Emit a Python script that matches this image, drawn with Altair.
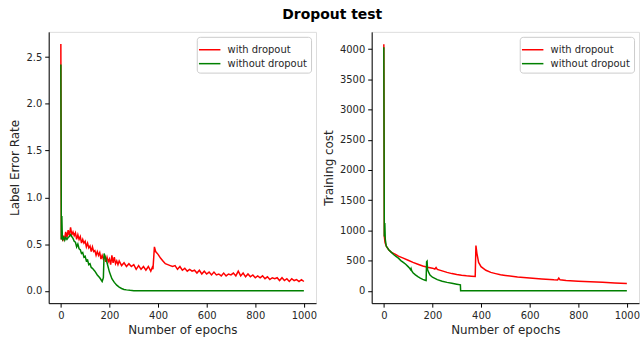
import altair as alt
import pandas as pd

series_names = ["with dropout", "without dropout"]
series_colors = ["#ff0000", "#008000"]

# Left panel: label error rate
red_err_epoch = [0, 2, 5, 8, 10, 15, 20, 25, 30, 35, 40, 45, 50, 55, 60, 65, 70, 75, 80, 85, 90,
                 95, 100, 105, 110, 115, 120, 125, 130, 135, 140, 145, 150, 155, 160, 165, 170,
                 175, 180, 185, 190, 195, 200, 205, 210, 215, 220, 225, 230, 235, 240, 250, 260,
                 270, 280,
                 290, 300, 310, 320, 330, 340, 350, 360, 370, 376, 379, 385, 390, 400, 410, 420,
                 430, 440, 450, 460, 470, 480, 490, 500, 510, 520, 530, 540, 550, 560, 570, 580,
                 590, 600, 610, 620, 630, 640, 650, 660, 670, 680, 690, 700, 710, 720, 730, 740,
                 750, 760, 770, 780, 790, 800, 810, 820, 830, 840, 850, 860, 870, 880, 890, 900,
                 910, 920, 930, 940, 950, 960, 970, 980, 990, 1000]
red_err_val = [2.64, 0.55, 0.63, 0.53, 0.59, 0.55, 0.63, 0.57, 0.65, 0.59, 0.68, 0.60, 0.63, 0.59,
               0.62, 0.55, 0.60, 0.55, 0.58, 0.51, 0.55, 0.51, 0.53, 0.47, 0.51, 0.46, 0.48, 0.42,
               0.47, 0.42, 0.43, 0.38, 0.42, 0.38, 0.41, 0.34, 0.38, 0.34, 0.37, 0.31, 0.36, 0.31,
               0.34, 0.28, 0.38, 0.30, 0.36, 0.29, 0.32, 0.28, 0.32, 0.27, 0.30, 0.26, 0.29, 0.26,
               0.28, 0.23, 0.27, 0.23, 0.26, 0.22,
               0.26, 0.21, 0.25, 0.23, 0.47, 0.42, 0.39, 0.35, 0.32, 0.29, 0.28, 0.27, 0.26, 0.27,
               0.23, 0.26, 0.22, 0.24, 0.21, 0.23, 0.21, 0.22, 0.19, 0.22, 0.18, 0.21, 0.18, 0.20,
               0.17, 0.20, 0.17, 0.18, 0.16, 0.19, 0.16, 0.18, 0.17, 0.19, 0.16, 0.21, 0.16, 0.19,
               0.15, 0.18, 0.15, 0.17, 0.14, 0.16, 0.14, 0.16, 0.13, 0.15, 0.12, 0.14, 0.13, 0.14,
               0.11, 0.14, 0.11, 0.13, 0.10, 0.13, 0.11, 0.12, 0.10, 0.12, 0.10, 0.10]

green_err_epoch = [0, 2, 4, 6, 8, 12, 16, 20, 25, 30, 35, 40, 45, 50, 55, 60, 65, 70, 75, 80, 85,
                   90, 95, 100, 105, 110, 115, 120, 125, 130, 140, 150, 160, 170, 175, 178, 182,
                   190, 200, 210, 220, 230, 240, 250, 260, 270, 285, 300, 320, 1000]
green_err_val = [2.42, 0.55, 0.80, 0.58, 0.55, 0.57, 0.54, 0.57, 0.55, 0.57, 0.58, 0.60, 0.58,
                 0.56, 0.53, 0.52, 0.47, 0.50, 0.45, 0.44, 0.40, 0.41, 0.36, 0.37, 0.32, 0.33,
                 0.28, 0.29, 0.25, 0.24, 0.21, 0.17, 0.14, 0.10, 0.14, 0.40, 0.37, 0.30, 0.20,
                 0.13, 0.09, 0.06, 0.04, 0.025, 0.015, 0.01, 0.005, 0.002, 0.0, 0.0]

# Right panel: training cost
red_cost_epoch = [0, 2, 5, 10, 20, 30, 40, 50, 60, 80, 100, 120, 140, 160, 180, 200, 210, 215, 220,
                  240, 260, 280, 300, 320, 340, 360, 376, 379, 383, 390, 400, 420, 440, 460, 480,
                  500, 550, 600, 650, 700, 715, 720, 725, 750, 800, 850, 900, 950, 1000]
red_cost_val = [4080, 900, 800, 740, 680, 640, 620, 600, 575, 540, 505, 470, 440, 410, 390, 375,
                360, 385, 355, 330, 305, 285, 270, 258, 248, 242, 238, 750, 620, 470, 400, 340,
                305, 285, 265, 255, 230, 212, 195, 182, 180, 212, 182, 172, 160, 150, 140, 130,
                122]

green_cost_epoch = [0, 2, 4, 6, 10, 20, 30, 40, 50, 60, 70, 80, 90, 100, 105, 110, 112, 115, 120,
                    130, 140, 150, 160, 170, 174, 176, 178, 180, 185, 190, 200, 220, 240, 260, 280,
                    300, 315, 316, 1000]
green_cost_val = [4030, 900, 1120, 850, 740, 680, 640, 600, 570, 540, 500, 470, 440, 400, 380, 350,
                  370, 330, 300, 265, 235, 210, 190, 175, 170, 480, 490, 350, 300, 260, 225, 185,
                  160, 140, 125, 110, 100, 0, 0]


def frame(red_e, red_v, green_e, green_v):
    rows = [{"epoch": e, "value": v, "series": series_names[0]} for e, v in zip(red_e, red_v)]
    rows += [{"epoch": e, "value": v, "series": series_names[1]} for e, v in zip(green_e, green_v)]
    return pd.DataFrame(rows)


df_err = frame(red_err_epoch, red_err_val, green_err_epoch, green_err_val)
df_cost = frame(red_cost_epoch, red_cost_val, green_cost_epoch, green_cost_val)

FONT = "DejaVu Sans"
x_ticks = [0, 200, 400, 600, 800, 1000]


def axis(title, values, fmt, tpad):
    return alt.Axis(title=title, values=values, format=fmt, grid=False, tickSize=4,
                    tickColor="black", domainColor="black", labelColor="#262626",
                    titleColor="#262626", labelFont=FONT, titleFont=FONT, labelFontSize=10,
                    titleFontSize=12, titleFontWeight="normal", labelPadding=3,
                    titlePadding=tpad)


legend = alt.Legend(title=None, orient="top-right", offset=5, symbolType="M-1.35,0H1.35",
                    symbolStrokeWidth=1.5, symbolSize=256, labelFont=FONT, labelFontSize=10,
                    labelColor="#262626", fillColor="white", strokeColor="#cccccc",
                    cornerRadius=3, padding=4, rowPadding=0, labelOffset=9)

color = alt.Color("series:N", scale=alt.Scale(domain=series_names, range=series_colors),
                  legend=legend)


def panel(df, ytitle, ydomain, yvalues, yfmt):
    return alt.Chart(df).mark_line(strokeWidth=1.5).encode(
        x=alt.X("epoch:Q", scale=alt.Scale(domain=[-50, 1050], nice=False, zero=False),
                axis=axis("Number of epochs", x_ticks, "d", 5)),
        y=alt.Y("value:Q", scale=alt.Scale(domain=ydomain, nice=False, zero=False),
                axis=axis(ytitle, yvalues, yfmt, 4)),
        color=color,
    ).properties(width=269, height=273)


left = panel(df_err, "Label Error Rate", [-0.132, 2.77], [0, 0.5, 1.0, 1.5, 2.0, 2.5], ".1f")
right = panel(df_cost, "Training cost", [-204, 4284],
              [0, 500, 1000, 1500, 2000, 2500, 3000, 3500, 4000], "d")

chart = alt.hconcat(left, right, spacing=5).resolve_scale(color="independent").resolve_legend(
    color="independent"
).properties(
    title=alt.TitleParams("Dropout test", anchor="middle", font=FONT, fontSize=14,
                          fontWeight="bold", color="black", offset=9, dx=8),
    padding={"left": 8, "top": 7, "right": 0, "bottom": 0},
).configure_view(stroke="black", strokeWidth=1).configure(background="white")

chart.save("out.html", embed_options={"renderer": "svg", "actions": False})
